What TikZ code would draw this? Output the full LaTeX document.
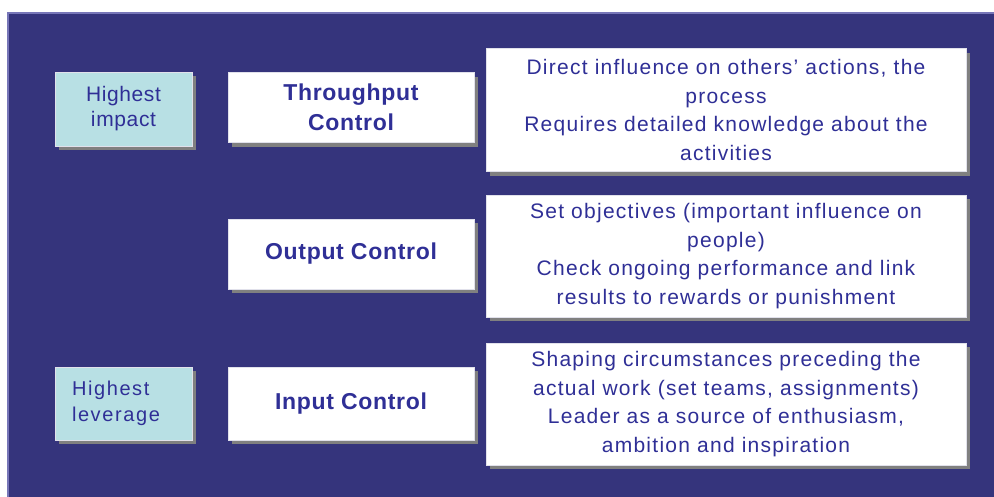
\documentclass[tikz,border=0pt]{standalone}
\usepackage{fontspec}
\setmainfont{Liberation Sans}
\usetikzlibrary{shadows}

\definecolor{navy}{HTML}{35347C}
\definecolor{navyedge}{HTML}{7776B8}
\definecolor{inktext}{HTML}{2F2F96}
\definecolor{paleteal}{HTML}{B8E0E4}

\tikzset{
    boxed/.style = {draw = white!85!navy, line width = .6pt, text = inktext,
        drop shadow = {shadow xshift = 4pt, shadow yshift = -4pt, fill = gray, opacity = 1}},
    tagbox/.style = {boxed, fill = paleteal, minimum width = 137pt},
    ctrlbox/.style = {boxed, fill = white, minimum width = 246pt, minimum height = 70pt,
        align = center, font = \fontsize{23}{30}\bfseries\addfontfeature{LetterSpace=3}\selectfont},
    notebox/.style = {boxed, fill = white, minimum width = 480pt, minimum height = 122pt,
        align = center, font = \fontsize{21}{28.5}\addfontfeature{LetterSpace=6}\selectfont}
}

\begin{document}
\begin{tikzpicture}[x = 1pt, y = -1pt]
        \useasboundingbox (0,0) rectangle (994,496);
        \fill[white] (0,0) rectangle (994,496);
        \fill[navy] (7,12) rectangle (996,498);
        \draw[navyedge, line width = 2pt] (8,498) -- (8,13) -- (996,13);

        % left tags
        \node[tagbox, minimum height = 74pt, align = center,
            font = \fontsize{21}{25}\addfontfeature{LetterSpace=3}\selectfont] (impact) at (123.5,109) {Highest\\impact};
        \node[tagbox, minimum height = 73pt, align = left, inner xsep = 17pt, text width = 103pt,
            font = \fontsize{20}{26}\addfontfeature{LetterSpace=8}\selectfont] (leverage) at (123.5,403.5) {Highest\\leverage};

        % control types
        \node[ctrlbox] (throughput) at (351,107.5) {Throughput\\Control};
        \node[ctrlbox] (output) at (351,254) {Output Control};
        \node[ctrlbox, minimum height = 73pt] (input) at (351,403.5) {Input Control};

        % what each one means
        \node[notebox, minimum height = 123pt] (throughputnote) at (726,110)
            {Direct influence on others’ actions, the\\process\\Requires detailed knowledge about the\\activities};
        \node[notebox] (outputnote) at (726,256)
            {Set objectives (important influence on\\people)\\Check ongoing performance and link\\results to rewards or punishment};
        \node[notebox] (inputnote) at (726,404)
            {Shaping circumstances preceding the\\actual work (set teams, assignments)\\Leader as a source of enthusiasm,\\ambition and inspiration};
    \end{tikzpicture}
\end{document}
